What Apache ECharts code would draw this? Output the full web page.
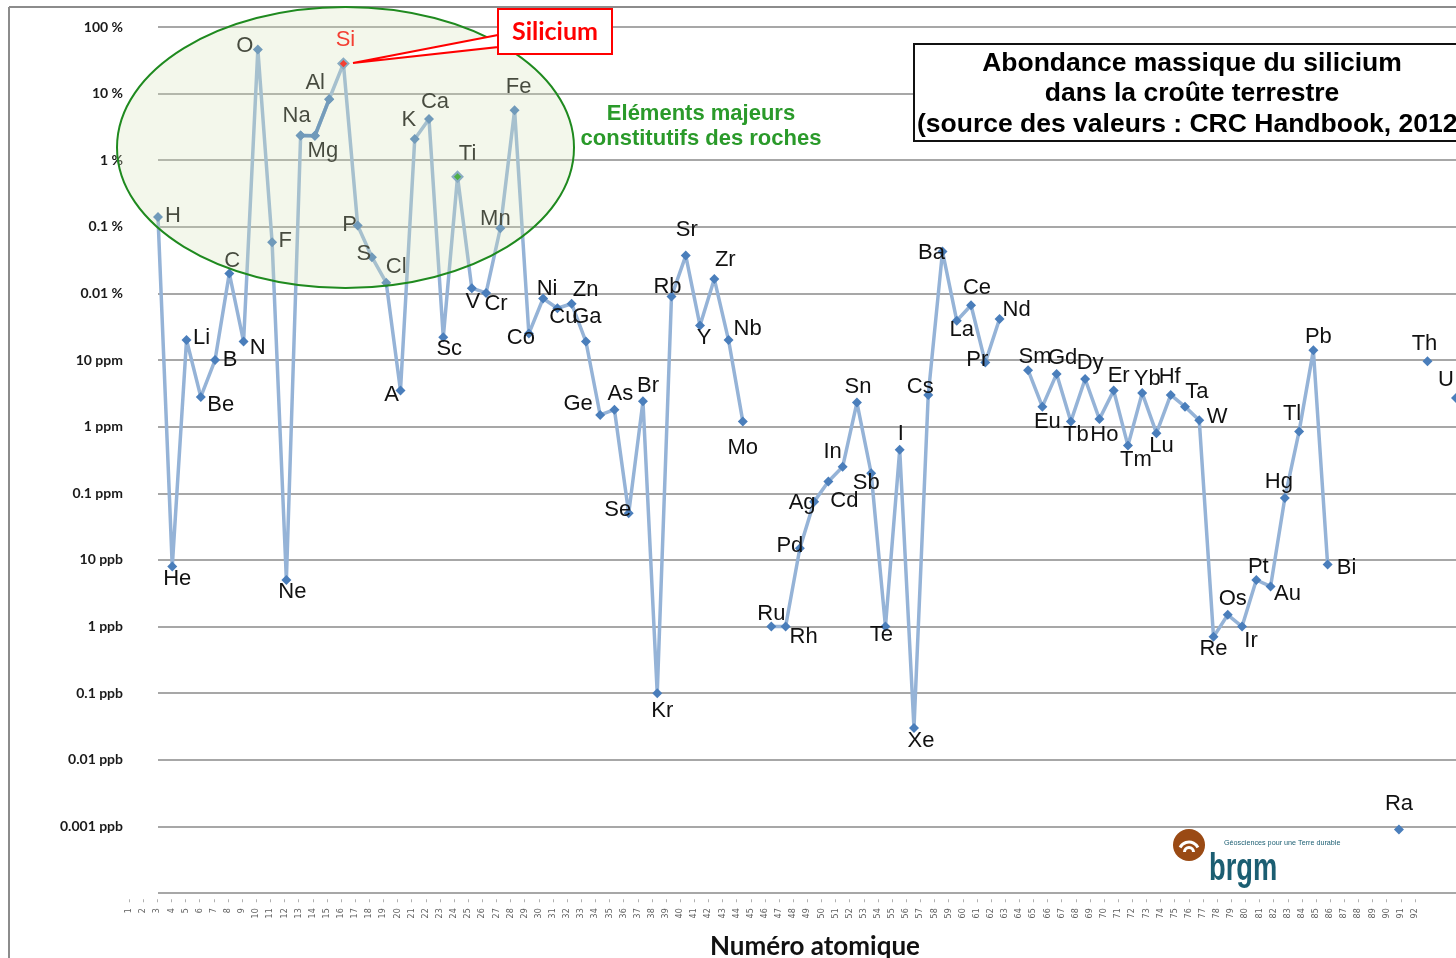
<!DOCTYPE html>
<html>
<head>
<meta charset="utf-8">
<script src="https://cdn.jsdelivr.net/npm/echarts@6/dist/echarts.min.js"></script>
<style>
  html, body { margin: 0; padding: 0; background: #fff; }
  #chart { width: 1456px; height: 958px; }
</style>
</head>
<body>
<div id="chart"></div>
<script>
// element symbols, atomic number 1..92 (argon shown with its old symbol "A")
const elements = [
  'H','He','Li','Be','B','C','N','O','F','Ne',
  'Na','Mg','Al','Si','P','S','Cl','A','K','Ca',
  'Sc','Ti','V','Cr','Mn','Fe','Co','Ni','Cu','Zn',
  'Ga','Ge','As','Se','Br','Kr','Rb','Sr','Y','Zr',
  'Nb','Mo','Tc','Ru','Rh','Pd','Ag','Cd','In','Sn',
  'Sb','Te','I','Xe','Cs','Ba','La','Ce','Pr','Nd',
  'Pm','Sm','Eu','Gd','Tb','Dy','Ho','Er','Tm','Yb',
  'Lu','Hf','Ta','W','Re','Os','Ir','Pt','Au','Hg',
  'Tl','Pb','Bi','Po','At','Rn','Fr','Ra','Ac','Th',
  'Pa','U'
];

// crust abundance in mg/kg (null = not plotted)
const abundanceMgKg = [
  1400, 0.008, 20, 2.8, 10, 200, 19, 461000, 585, 0.005,
  23600, 23300, 82300, 282000, 1050, 350, 145, 3.5, 20900, 41500,
  22, 5650, 120, 102, 950, 56300, 25, 84, 60, 70,
  19, 1.5, 1.8, 0.05, 2.4, 0.0001, 90, 370, 33, 165,
  20, 1.2, null, 0.001, 0.001, 0.015, 0.075, 0.15, 0.25, 2.3,
  0.2, 0.001, 0.45, 0.00003, 3, 425, 39, 66.5, 9.2, 41.5,
  null, 7.05, 2.0, 6.2, 1.2, 5.2, 1.3, 3.5, 0.52, 3.2,
  0.8, 3.0, 2.0, 1.25, 0.0007, 0.0015, 0.001, 0.005, 0.004, 0.085,
  0.85, 14, 0.0085, null, null, null, null, 0.0000009, null, 9.6,
  null, 2.7
];

// segment drawn darker (Na, Mg, Al)
const highlighted = ['Na', 'Mg', 'Al'];

// y tick labels, exponent 0 down to -13
const yTickLabels = [
  '100 %', '10 %', '1 %', '0.1 %', '0.01 %', '10 ppm', '1 ppm', '0.1 ppm',
  '10 ppb', '1 ppb', '0.1 ppb', '0.01 ppb', '0.001 ppb', ''
];

const xTickLabels = [];
for (let n = 1; n <= 92; n++) xTickLabels.push(String(n));

// label offsets from each point (px), style only
const labelOffsets = [
  [15,-1],[5,13],[15,-2],[20,8],[15,0],[3,-12],[14,6],[-13,-3],[13,-1],[6,12],
  [-4,-19],[8,15],[-14,-16],[2,-24],[-8,0],[-8,-3],[10,-16],[-9,4],[-6,-19],[6,-17],
  [6,12],[10,-23],[1,14],[10,11],[-5,-9],[4,-23],[-8,4],[4,-10],[6,9],[14,-14],
  [1,-25],[-22,-11],[6,-16],[-11,-3],[5,-15],[5,18],[-4,-10],[1,-26],[4,12],[11,-19],
  [19,-11],[0,27],[0,0],[0,-13],[18,10],[-10,-2],[-12,1],[16,19],[-10,-15],[1,-16],
  [-5,10],[-4,8],[1,-16],[7,13],[-8,-8],[-11,1],[5,9],[6,-17],[-8,-3],[17,-9],
  [0,0],[7,-13],[5,15],[6,-16],[5,14],[5,-16],[5,16],[5,-15],[8,14],[5,-14],
  [5,13],[-1,-18],[12,-15],[18,-3],[0,12],[5,-16],[9,14],[2,-13],[17,8],[-6,-16],
  [-7,-17],[5,-13],[19,3],[0,0],[0,0],[0,0],[0,0],[0,-25],[0,0],[-3,-17],
  [0,0],[-10,-18]
];

const lineColor = '#95b3d7';
const markColor = '#4a7ebb';

const mainData = elements.map((sym, i) => {
  const v = abundanceMgKg[i];
  if (v == null) return { value: [i + 1, '-'] };
  const item = { value: [i + 1, v * 1e-6], label: { offset: labelOffsets[i] } };
  if (sym === 'Si') {
    item.itemStyle = { color: '#ff0000', borderColor: '#6d97c6', borderWidth: 2 };
    item.label.color = '#ff0000';
  }
  if (sym === 'Ti') {
    item.itemStyle = { color: '#1a9a1a', borderColor: '#6d97c6', borderWidth: 2 };
  }
  return item;
});

const hiData = [];
elements.forEach((sym, i) => {
  if (highlighted.indexOf(sym) >= 0) hiData.push([i + 1, abundanceMgKg[i] * 1e-6]);
});

const chart = echarts.init(document.getElementById('chart'));

chart.setOption({
  animation: false,
  backgroundColor: '#fff',
  grid: [
    { left: 158, top: 27, right: 0, height: 866 },
    { left: 122, top: 899, width: 1300, height: 1 }
  ],
  xAxis: [
    {
      type: 'value', gridIndex: 0, min: 1, max: 92,
      axisLine: { show: false }, axisTick: { show: false },
      axisLabel: { show: false }, splitLine: { show: false }
    },
    {
      type: 'category', gridIndex: 1, data: xTickLabels, boundaryGap: true,
      axisLine: { show: false },
      axisTick: { show: true, alignWithLabel: true, length: 3, lineStyle: { color: '#b0b0b0' } },
      axisLabel: { rotate: 90, fontSize: 8, color: '#606060', margin: 9, interval: 0,
        fontFamily: 'DejaVu Sans' },
      name: 'Numéro atomique', nameLocation: 'middle', nameGap: 34,
      nameTextStyle: { fontSize: 26, fontWeight: 'bold', color: '#111', fontFamily: 'Lato',
        padding: [0, 0, 0, 86] }
    }
  ],
  yAxis: [
    {
      type: 'log', gridIndex: 0, logBase: 10, min: 1e-13, max: 1, interval: 1,
      axisLine: { show: false }, axisTick: { show: false },
      axisLabel: {
        margin: 35, fontSize: 14, fontWeight: 'bold', color: '#1a1a1a', fontFamily: 'Lato',
        formatter: v => yTickLabels[-Math.round(Math.log10(v))] || ''
      },
      splitLine: { show: true, lineStyle: { color: '#8a8a8a', width: 1.6 } }
    },
    { type: 'value', gridIndex: 1, show: false }
  ],
  series: [
    {
      type: 'line', xAxisIndex: 0, yAxisIndex: 0,
      data: mainData, connectNulls: false, clip: false,
      symbol: 'diamond', symbolSize: 10, showAllSymbol: true,
      lineStyle: { color: lineColor, width: 3.5 },
      itemStyle: { color: markColor },
      label: {
        show: true, position: 'inside',
        formatter: p => elements[p.dataIndex],
        fontSize: 22, color: '#111', fontFamily: 'Liberation Sans'
      },
      emphasis: { disabled: true }
    },
    {
      type: 'line', xAxisIndex: 0, yAxisIndex: 0,
      data: hiData,
      symbol: 'diamond', symbolSize: 10,
      lineStyle: { color: '#4f81bd', width: 3.5 },
      itemStyle: { color: markColor },
      emphasis: { disabled: true }
    }
  ],
  graphic: [
    // chart frame
    { type: 'line', shape: { x1: 9, y1: 7, x2: 1456, y2: 7 }, style: { stroke: '#8c8c8c', lineWidth: 2 }, z: 1 },
    { type: 'line', shape: { x1: 9, y1: 7, x2: 9, y2: 958 }, style: { stroke: '#8c8c8c', lineWidth: 2 }, z: 1 },
    // major elements ellipse
    {
      type: 'ellipse', shape: { cx: 345.5, cy: 147.5, rx: 228.5, ry: 140.5 },
      style: { fill: 'rgba(212,226,184,0.28)', stroke: '#1f8a1f', lineWidth: 2 }, z: 50
    },
    {
      type: 'text', x: 701, y: 114, z: 60,
      style: { text: 'Eléments majeurs', fill: '#2a9a2a',
        font: 'bold 22px "Liberation Sans"', textAlign: 'center', textVerticalAlign: 'middle' }
    },
    {
      type: 'text', x: 701, y: 139, z: 60,
      style: { text: 'constitutifs des roches', fill: '#2a9a2a',
        font: 'bold 22px "Liberation Sans"', textAlign: 'center', textVerticalAlign: 'middle' }
    },
    // Silicium callout
    {
      type: 'polygon', shape: { points: [[498, 35], [498, 47], [353, 63]] },
      style: { fill: '#ffffff', stroke: '#ff0000', lineWidth: 2 }, z: 60
    },
    {
      type: 'rect', shape: { x: 498, y: 9, width: 114, height: 45 },
      style: { fill: '#ffffff', stroke: '#ff0000', lineWidth: 2 }, z: 61
    },
    {
      type: 'text', x: 555, y: 32, z: 62,
      style: { text: 'Silicium', fill: '#ff0000', font: 'bold 25px Lato',
        textAlign: 'center', textVerticalAlign: 'middle' }
    },
    // title box
    {
      type: 'rect', shape: { x: 914, y: 44, width: 600, height: 97 },
      style: { fill: '#ffffff', stroke: '#111', lineWidth: 2 }, z: 60
    },
    {
      type: 'text', x: 1192, y: 64, z: 61,
      style: { text: 'Abondance massique du silicium', fill: '#000',
        font: 'bold 26.5px "Liberation Sans"', textAlign: 'center', textVerticalAlign: 'middle' }
    },
    {
      type: 'text', x: 1192, y: 94, z: 61,
      style: { text: 'dans la croûte terrestre', fill: '#000',
        font: 'bold 26.5px "Liberation Sans"', textAlign: 'center', textVerticalAlign: 'middle' }
    },
    {
      type: 'text', x: 917, y: 125, z: 61,
      style: { text: '(source des valeurs : CRC Handbook, 2012)', fill: '#000',
        font: 'bold 26.5px "Liberation Sans"', textAlign: 'left', textVerticalAlign: 'middle' }
    },
    // brgm logo
    { type: 'circle', shape: { cx: 1189, cy: 845, r: 16 }, style: { fill: '#9a4a14' }, z: 60 },
    {
      type: 'arc', shape: { cx: 1189, cy: 852, r: 10, startAngle: -Math.PI * 0.85, endAngle: -Math.PI * 0.15 },
      style: { stroke: '#ffffff', lineWidth: 3, fill: null }, z: 61
    },
    {
      type: 'arc', shape: { cx: 1189, cy: 852, r: 4.5, startAngle: -Math.PI, endAngle: 0 },
      style: { stroke: '#ffffff', lineWidth: 3, fill: null }, z: 61
    },
    {
      type: 'text', x: 1209, y: 869, z: 61, scaleX: 0.7,
      style: { text: 'brgm', fill: '#1b5e72',
        font: 'bold 39px "Liberation Sans"',
        textAlign: 'left', textVerticalAlign: 'middle' }
    },
    {
      type: 'text', x: 1224, y: 843, z: 61, scaleX: 0.9,
      style: { text: 'Géosciences pour une Terre durable', fill: '#1b5e72',
        font: '8px "Liberation Sans"',
        textAlign: 'left', textVerticalAlign: 'middle' }
    }
  ]
});
</script>
</body>
</html>
